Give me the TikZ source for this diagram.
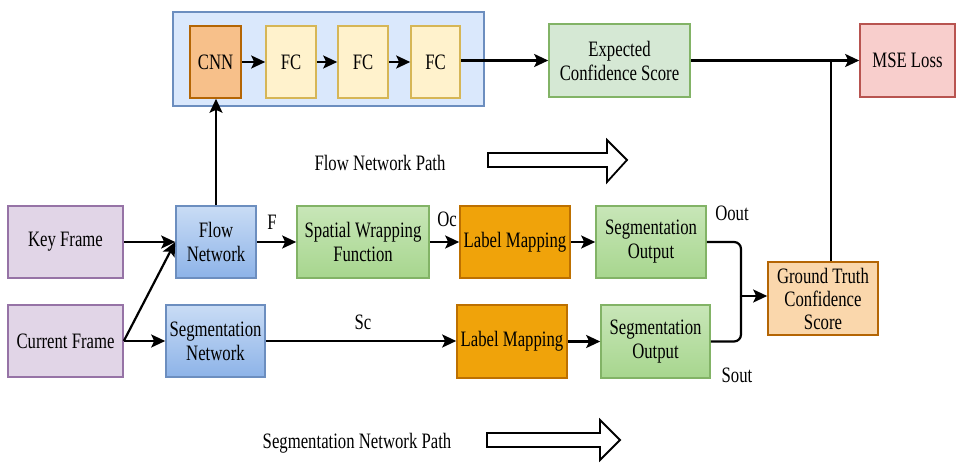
\documentclass[tikz,border=0pt]{standalone}
\usepackage{fontspec}
\usepackage{graphicx}
\setmainfont{Liberation Serif}
\usetikzlibrary{arrows.meta,calc}
\newcommand{\cz}[1]{\scalebox{0.76}[1]{#1}}
\definecolor{purF}{HTML}{E1D5E7}\definecolor{purD}{HTML}{9673A6}
\definecolor{bluF}{HTML}{DAE8FC}\definecolor{bluD}{HTML}{6C8EBF}
\definecolor{bluT}{HTML}{C9DCF5}\definecolor{bluB}{HTML}{8DB3E8}
\definecolor{orgF}{HTML}{FAD7AC}\definecolor{orgD}{HTML}{B46504}
\definecolor{cnnF}{HTML}{F7C08A}
\definecolor{ylwF}{HTML}{FFF2CC}\definecolor{ylwD}{HTML}{D6B656}
\definecolor{grnF}{HTML}{D5E8D4}\definecolor{grnD}{HTML}{82B366}
\definecolor{grnT}{HTML}{C8E6B8}\definecolor{grnB}{HTML}{A7D68E}
\definecolor{redF}{HTML}{F8CECC}\definecolor{redD}{HTML}{B85450}
\definecolor{lmF}{HTML}{F0A30A}\definecolor{lmD}{HTML}{BD7000}
\begin{document}
\begin{tikzpicture}[x=1pt,y=-1pt,
  box/.style={draw,line width=1.6pt,minimum height=72pt,align=center,inner sep=1pt,
    font=\fontsize{22}{24}\selectfont},
  lbl/.style={font=\fontsize{22}{24}\selectfont,inner sep=0pt},
  conn/.style={line width=2.2pt,-{Stealth[length=14pt,width=13pt,inset=3pt]}},
  line/.style={line width=2.2pt},
  blk/.style={draw,line width=1.8pt,fill=white,line join=miter}]
\useasboundingbox (0,0) rectangle (964,473);
% container
\node[draw=bluD,fill=bluF,line width=1.6pt,minimum width=311pt,minimum height=94pt] (cont) at (328.5,59) {};
\node[box,draw=orgD,fill=cnnF,minimum width=51pt] (cnn) at (215.5,62) {\cz{CNN}};
\node[box,draw=ylwD,fill=ylwF,minimum width=50pt] (fc1) at (291,62) {\cz{FC}};
\node[box,draw=ylwD,fill=ylwF,minimum width=50pt] (fc2) at (363,62) {\cz{FC}};
\node[box,draw=ylwD,fill=ylwF,minimum width=49pt] (fc3) at (435.5,62) {\cz{FC}};
\node[box,draw=grnD,fill=grnF,minimum width=141pt,minimum height=73pt] (exp) at (619.5,60.5) {\cz{Expected}\\\cz{Confidence Score}};
\node[box,draw=redD,fill=redF,minimum width=95pt,minimum height=73pt] (mse) at (907.5,60.5) {\cz{MSE Loss}};
% middle rows
\node[box,draw=purD,fill=purF,minimum width=115pt] (kf) at (65.5,242) {\cz{Key Frame}};
\node[box,draw=purD,fill=purF,minimum width=115pt] (cf) at (65.5,341) {\cz{Current Frame}};
\node[box,draw=bluD,top color=bluT,bottom color=bluB,minimum width=80pt] (flow) at (216,242) {\cz{Flow}\\\cz{Network}};
\node[box,draw=bluD,top color=bluT,bottom color=bluB,minimum width=99pt] (segnet) at (215.5,341) {\cz{Segmentation}\\\cz{Network}};
\node[box,draw=grnD,top color=grnT,bottom color=grnB,minimum width=132pt] (swf) at (363,242) {\cz{Spatial Wrapping}\\\cz{Function}};
\node[box,draw=lmD,fill=lmF,minimum width=110pt] (lm1) at (515,242) {\cz{Label Mapping}};
\node[box,draw=lmD,fill=lmF,minimum width=110pt,minimum height=73pt] (lm2) at (512,341.5) {\cz{Label Mapping}};
\node[box,draw=grnD,top color=grnT,bottom color=grnB,minimum width=110pt] (so1) at (651,242) {\cz{Segmentation}\\\cz{Output}};
\node[box,draw=grnD,top color=grnT,bottom color=grnB,minimum width=109pt,minimum height=73pt] (so2) at (655.5,341.5) {\cz{Segmentation}\\\cz{Output}};
\node[box,draw=orgD,fill=orgF,minimum width=110pt,minimum height=73pt,font=\fontsize{22}{23}\selectfont] (gt) at (823,298.5) {\cz{Ground Truth}\\\cz{Confidence}\\\cz{Score}};
% labels
\node[lbl] (lF) at (272,222) {\cz{F}};
\node[lbl] (lOc) at (447,219) {\cz{Oc}};
\node[lbl] (lSc) at (363,322) {\cz{Sc}};
\node[lbl] (lOout) at (732,213) {\cz{Oout}};
\node[lbl] (lSout) at (737,375) {\cz{Sout}};
\node[lbl] (lfnp) at (380,163) {\cz{Flow Network Path}};
\node[lbl] (lsnp) at (357,443) {\cz{Segmentation Network Path}};
% connectors
\draw[conn] (cnn) -- (fc1);
\draw[conn] (fc1) -- (fc2);
\draw[conn] (fc2) -- (fc3);
\draw[conn] (fc3.east |- exp.west) -- (exp.west);
\draw[conn] (exp.east) -- (mse.west);
\coordinate (j) at (831,60.5);
\draw[line] (j |- gt.north) -- (j);
\draw[conn] (flow.north) -- (flow.north |- cnn.south);
\draw[conn] (kf.east) -- (flow.west);
\draw[conn] (cf.east) -- (flow.west);
\draw[conn] (cf.east) -- (segnet.west);
\draw[conn] (flow.east) -- (swf.west);
\draw[conn] (swf.east) -- (lm1.west);
\draw[conn] (lm1.east) -- (so1.west);
\draw[conn] (segnet.east) -- (segnet.east -| lm2.west);
\draw[conn] (lm2.east) -- (lm2.east -| so2.west);
\coordinate (m) at (741,296);
\draw[line,rounded corners=7pt] (so1.east) -| (m);
\draw[line,rounded corners=7pt] (so2.east) -| (m);
\draw[conn] (m) -- (m -| gt.west);
% block arrows
\draw[blk] (488,153) -- (607,153) -- (607,140) -- (627,160) -- (607,182) -- (607,167) -- (488,167) -- cycle;
\draw[blk] (487,433) -- (600,433) -- (600,420) -- (620,440) -- (600,460) -- (600,447) -- (487,447) -- cycle;
\end{tikzpicture}
\end{document}
